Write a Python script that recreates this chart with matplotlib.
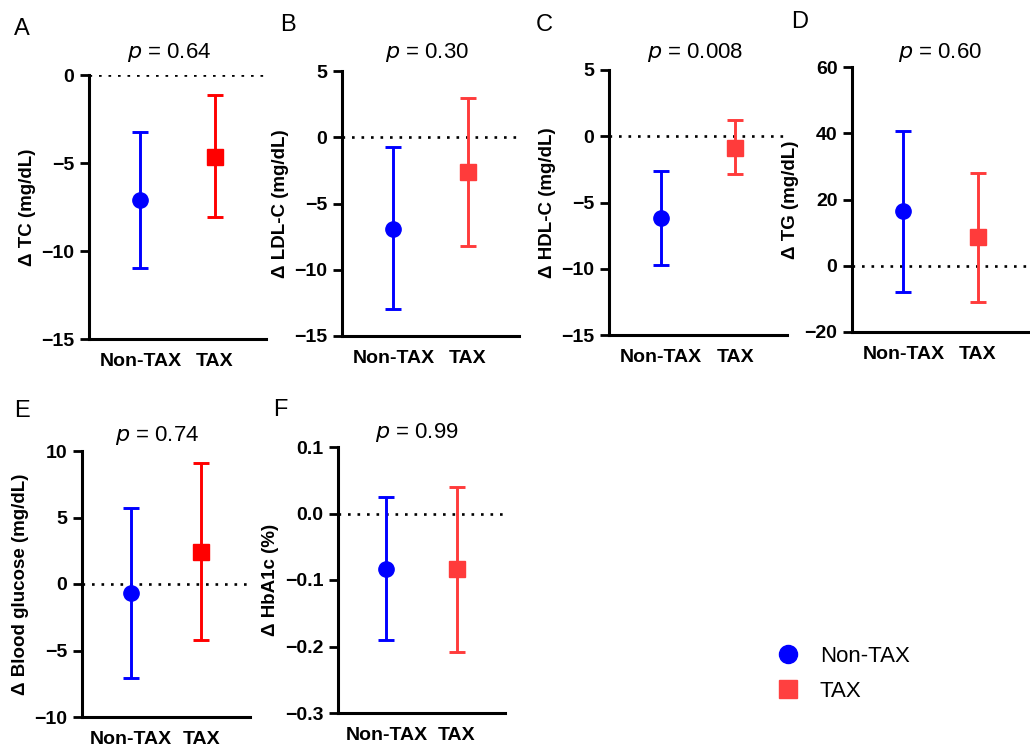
import matplotlib
matplotlib.use("Agg")
import matplotlib.pyplot as plt
from matplotlib.lines import Line2D

plt.rcParams["font.family"] = ["Liberation Sans", "DejaVu Sans"]

W, H = 1030, 751

panels = ["A", "B", "C", "D", "E", "F"]
ylabels = [
    "Δ TC (mg/dL)",
    "Δ LDL-C (mg/dL)",
    "Δ HDL-C (mg/dL)",
    "Δ TG (mg/dL)",
    "Δ Blood glucose (mg/dL)",
    "Δ HbA1c (%)",
]
p_values = ["0.64", "0.30", "0.008", "0.60", "0.74", "0.99"]
groups = ["Non-TAX", "TAX"]

nontax_mean = [-7.1, -6.9, -6.2, 16.6, -0.68, -0.083]
nontax_low = [-10.97, -12.98, -9.75, -7.9, -7.05, -0.19]
nontax_high = [-3.24, -0.73, -2.64, 40.8, 5.72, 0.025]
tax_mean = [-4.66, -2.62, -0.88, 8.6, 2.41, -0.084]
tax_low = [-8.07, -8.23, -2.87, -11.0, -4.22, -0.209]
tax_high = [-1.14, 2.97, 1.19, 27.9, 9.1, 0.040]

yticks = [
    [-15, -10, -5, 0],
    [-15, -10, -5, 0, 5],
    [-15, -10, -5, 0, 5],
    [-20, 0, 20, 40, 60],
    [-10, -5, 0, 5, 10],
    [-0.3, -0.2, -0.1, 0.0, 0.1],
]

# axes boxes in pixels: left, right, top, bottom
boxes = [
    (89, 266, 75, 339),
    (342, 519, 71, 336),
    (609, 787, 70, 335),
    (852, 1029, 67, 332),
    (82, 250, 451, 717),
    (338, 505, 447, 713),
]
letter_pos = [(22, 29), (288, 25), (544, 25), (800, 22), (22, 411), (280, 410)]
p_pos = [(169, 52), (427, 52), (695, 52), (940, 52), (157, 435), (417, 432)]

blue = "#0000FF"
tax_colors = ["#FF0000", "#FF3B3B", "#FF3B3B", "#FF3B3B", "#FF0000", "#FF3B3B"]

fig = plt.figure(figsize=(W / 100, H / 100), dpi=100)

for i, name in enumerate(panels):
    l, r, t, b = boxes[i]
    ax = fig.add_axes([l / W, 1 - b / H, (r - l) / W, (b - t) / H])

    ax.axhline(0, color="black", linestyle=(0, (1, 2.6)), linewidth=1.9, zorder=1)

    ax.errorbar(
        [0], [nontax_mean[i]],
        yerr=[[nontax_mean[i] - nontax_low[i]], [nontax_high[i] - nontax_mean[i]]],
        fmt="o", color=blue, markersize=11, elinewidth=2.1, capsize=6, capthick=2.1,
        clip_on=False, zorder=3,
    )
    ax.errorbar(
        [1], [tax_mean[i]],
        yerr=[[tax_mean[i] - tax_low[i]], [tax_high[i] - tax_mean[i]]],
        fmt="s", color=tax_colors[i], markersize=11.5, elinewidth=2.1, capsize=6, capthick=2.1,
        clip_on=False, zorder=3,
    )

    ax.set_xlim(-0.69, 1.69)
    ax.set_ylim(yticks[i][0], yticks[i][-1])
    ax.set_yticks(yticks[i])
    ax.set_xticks([0, 1])
    ax.set_xticklabels(groups)

    for s in ["top", "right"]:
        ax.spines[s].set_visible(False)
    for s in ["left", "bottom"]:
        ax.spines[s].set_linewidth(2.2)

    ax.tick_params(axis="y", length=6.5, width=2, pad=4, labelsize=14)
    ax.tick_params(axis="x", length=0, pad=10, labelsize=14)
    for lab in ax.get_xticklabels() + ax.get_yticklabels():
        lab.set_fontweight("bold")

    ax.set_ylabel(ylabels[i], fontsize=13.5, fontweight="bold", labelpad=4)

    fig.text(p_pos[i][0] / W, 1 - p_pos[i][1] / H, f"$\\it{{p}}$ = {p_values[i]}",
             ha="center", va="center", fontsize=16)
    fig.text(letter_pos[i][0] / W, 1 - letter_pos[i][1] / H, name,
             ha="center", va="center", fontsize=17)

handles = [
    Line2D([], [], marker="o", color=blue, linestyle="none", markersize=13),
    Line2D([], [], marker="s", color="#FF4040", linestyle="none", markersize=13),
]
fig.legend(handles, groups, loc="center left", bbox_to_anchor=(751 / W, 1 - 674 / H),
           frameon=False, fontsize=16, handlelength=1.5, handletextpad=0.7,
           labelspacing=0.65)

fig.savefig("out.png", dpi=100)
